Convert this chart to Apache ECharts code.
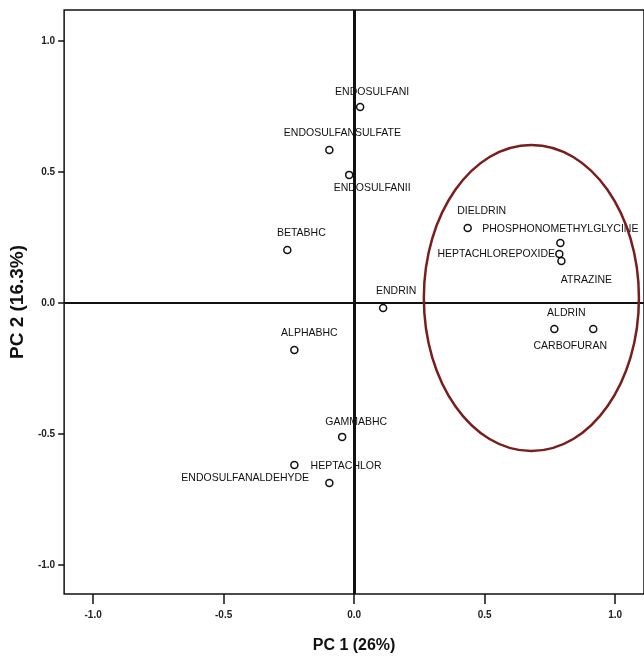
<!DOCTYPE html>
<html><head><meta charset="utf-8">
<script src="https://cdn.jsdelivr.net/npm/echarts@6.0.0/dist/echarts.min.js"></script>
<style>html,body{margin:0;padding:0;background:#fff}#c{width:644px;height:659px}</style>
</head><body><div id="c"></div>
<script>
// ---- data ----
const names = ['ENDOSULFANI','ENDOSULFANSULFATE','ENDOSULFANII','BETABHC','ENDRIN','ALPHABHC',
  'DIELDRIN','PHOSPHONOMETHYLGLYCINE','HEPTACHLOREPOXIDE','ATRAZINE','ALDRIN','CARBOFURAN',
  'GAMMABHC','HEPTACHLOR','ENDOSULFANALDEHYDE'];
const pc1 = [0.023,-0.095,-0.019,-0.256,0.111,-0.229,0.435,0.790,0.786,0.794,0.767,0.916,-0.046,-0.229,-0.095];
const pc2 = [0.748,0.584,0.489,0.202,-0.019,-0.179,0.286,0.229,0.187,0.160,-0.099,-0.099,-0.511,-0.618,-0.687];
const tickValues = [-1, -0.5, 0, 0.5, 1];
const tickLabels = ['-1.0','-0.5','0.0','0.5','1.0'];
const xTitle = 'PC 1 (26%)';
const yTitle = 'PC 2 (16.3%)';
const ellipseCenter = [0.679, 0.019];
const ellipseRadii = [0.412, 0.584];

// ---- label placement (styling) ----
const labelPlace = {
  'ENDOSULFANI': {position:'inside', offset:[12,-15]},
  'ENDOSULFANSULFATE': {position:'inside', offset:[13,-17]},
  'ENDOSULFANII': {position:'inside', offset:[23,13]},
  'BETABHC': {position:'inside', offset:[14,-17]},
  'ENDRIN': {position:'inside', offset:[13,-17]},
  'ALPHABHC': {position:'inside', offset:[15,-17]},
  'DIELDRIN': {position:'inside', offset:[14,-17]},
  'PHOSPHONOMETHYLGLYCINE': {position:'inside', offset:[0,-14]},
  'HEPTACHLOREPOXIDE': {position:'left', distance:0, offset:[0,0]},
  'ATRAZINE': {position:'inside', offset:[25,19]},
  'ALDRIN': {position:'inside', offset:[12,-16]},
  'CARBOFURAN': {position:'inside', offset:[-23,17]},
  'GAMMABHC': {position:'inside', offset:[14,-15]},
  'HEPTACHLOR': {position:'right', distance:12, offset:[0,1]},
  'ENDOSULFANALDEHYDE': {position:'left', distance:16, offset:[0,-5]}
};

const points = names.map((n, i) => ({
  name: n,
  value: [pc1[i], pc2[i]],
  label: Object.assign({}, labelPlace[n])
}));

const fmt = v => {
  const k = tickValues.findIndex(t => Math.abs(t - v) < 1e-9);
  return k >= 0 ? tickLabels[k] : '';
};

const FONT = 'Liberation Sans, Arial, sans-serif';
const chart = echarts.init(document.getElementById('c'), null, {renderer:'canvas'});
chart.setOption({
  animation: false,
  backgroundColor: '#fff',
  grid: {left: 64, top: 10, right: -2, bottom: 65, show: true, borderColor: '#111', borderWidth: 1.5, backgroundColor: 'transparent'},
  xAxis: {
    type: 'value', min: -1.111, max: 1.1104,
    name: xTitle, nameLocation: 'middle', nameGap: 44,
    nameTextStyle: {fontFamily: FONT, fontWeight: 'bold', fontSize: 16, color: '#111'},
    axisLine: {show: false, onZero: false},
    splitLine: {show: false},
    axisTick: {show: true, customValues: tickValues, length: 10, inside: false, lineStyle: {color: '#111', width: 1.5}},
    axisLabel: {customValues: tickValues, formatter: fmt, margin: 16, fontFamily: FONT, fontWeight: 'bold', fontSize: 10, color: '#222'}
  },
  yAxis: {
    type: 'value', min: -1.1107, max: 1.1183,
    name: yTitle, nameLocation: 'middle', nameGap: 36,
    nameTextStyle: {fontFamily: FONT, fontWeight: 'bold', fontSize: 19, color: '#111'},
    axisLine: {show: false, onZero: false},
    splitLine: {show: false},
    axisTick: {show: true, customValues: tickValues, length: 6, inside: false, lineStyle: {color: '#111', width: 1.5}},
    axisLabel: {customValues: tickValues, formatter: fmt, margin: 9, fontFamily: FONT, fontWeight: 'bold', fontSize: 10, color: '#222'}
  },
  series: [{
    type: 'scatter',
    data: points,
    symbol: 'circle',
    symbolSize: 7,
    itemStyle: {color: '#fff', borderColor: '#111', borderWidth: 1.5, opacity: 1},
    label: {show: true, formatter: '{b}', fontFamily: FONT, fontSize: 10.5, color: '#111'},
    emphasis: {disabled: true},
    markLine: {
      silent: true, symbol: 'none', label: {show: false},
      data: [
        {xAxis: 0, lineStyle: {color: '#111', width: 3, type: 'solid'}},
        {yAxis: 0, lineStyle: {color: '#111', width: 2, type: 'solid'}}
      ]
    },
    z: 5
  }]
});

const c0 = chart.convertToPixel({gridIndex: 0}, ellipseCenter);
const c1 = chart.convertToPixel({gridIndex: 0}, [ellipseCenter[0] + ellipseRadii[0], ellipseCenter[1] + ellipseRadii[1]]);
chart.setOption({
  graphic: [{
    type: 'ellipse', z: 10, silent: true,
    shape: {cx: c0[0], cy: c0[1], rx: Math.abs(c1[0] - c0[0]), ry: Math.abs(c0[1] - c1[1])},
    style: {fill: 'none', stroke: '#7a1d1d', lineWidth: 2.5}
  }]
});
</script>
</body></html>
